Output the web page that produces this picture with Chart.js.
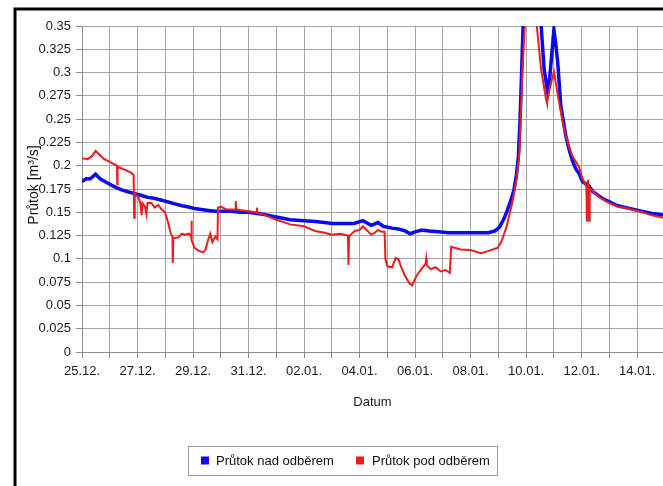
<!DOCTYPE html>
<html>
<head>
<meta charset="utf-8">
<title>Průtok</title>
<script src="https://cdn.jsdelivr.net/npm/chart.js@4.4.1/dist/chart.umd.min.js"></script>
<style>
  html, body { margin: 0; padding: 0; background: #ffffff; }
  canvas { display: block; }
</style>
</head>
<body>
<canvas id="c" width="663" height="486"></canvas>
<script>
// Time in days since 25.12. 00:00, flow in m³/s
const dayLabels = ['25.12.', '27.12.', '29.12.', '31.12.', '02.01.', '04.01.', '06.01.', '08.01.', '10.01.', '12.01.', '14.01.'];

const nadDays = [0.00, 0.15, 0.30, 0.49, 0.65, 0.95, 1.20, 1.43, 1.65, 1.90, 2.15, 2.37, 2.60, 2.87, 3.10, 3.35, 3.60, 3.80, 4.05, 4.30,
  4.55, 4.78, 5.00, 5.38, 5.70, 6.00, 6.50, 7.00, 7.50, 8.00, 8.40, 8.74, 9.00, 9.40, 9.80, 10.12, 10.30, 10.42, 10.66, 10.85,
  11.16, 11.40, 11.64, 11.82, 12.00, 12.24, 12.50, 12.84, 13.20, 13.44, 14.04, 14.40, 14.64, 14.88, 15.04, 15.20, 15.32, 15.45, 15.56, 15.65,
  15.72, 15.78, 15.84, 15.90, 16.20, 16.54, 16.65, 16.77, 16.85, 17.00, 17.07, 17.14, 17.25, 17.43, 17.55, 17.67, 17.80, 17.90, 18.03, 18.27,
  18.39, 18.70, 18.87, 19.30, 19.60, 20.19, 20.50, 20.93];
const nadFlow = [0.183, 0.186, 0.186, 0.191, 0.186, 0.181, 0.177, 0.174, 0.172, 0.170, 0.168, 0.166, 0.165, 0.163, 0.161, 0.159, 0.157, 0.156, 0.154, 0.153,
  0.152, 0.151, 0.151, 0.151, 0.150, 0.150, 0.148, 0.145, 0.142, 0.141, 0.140, 0.139, 0.138, 0.138, 0.138, 0.141, 0.138, 0.136, 0.139, 0.135,
  0.133, 0.132, 0.130, 0.127, 0.129, 0.131, 0.130, 0.129, 0.128, 0.128, 0.128, 0.128, 0.128, 0.130, 0.134, 0.143, 0.152, 0.163, 0.174, 0.190,
  0.210, 0.249, 0.303, 0.360, 0.420, 0.350, 0.303, 0.280, 0.295, 0.346, 0.330, 0.310, 0.264, 0.232, 0.217, 0.205, 0.196, 0.192, 0.183, 0.178,
  0.1725, 0.166, 0.163, 0.157, 0.155, 0.151, 0.149, 0.147];

const podDays = [0.00, 0.20, 0.35, 0.49, 0.62, 0.80, 0.95, 1.20, 1.26, 1.27, 1.28, 1.43, 1.60, 1.79, 1.86, 1.88, 1.90, 2.03, 2.10, 2.15,
  2.18, 2.27, 2.32, 2.36, 2.50, 2.62, 2.75, 2.87, 2.99, 3.10, 3.20, 3.26, 3.27, 3.29, 3.47, 3.60, 3.70, 3.85, 3.93, 3.94,
  3.96, 4.05, 4.18, 4.36, 4.45, 4.54, 4.62, 4.70, 4.80, 4.88, 4.90, 5.00, 5.20, 5.52, 5.54, 5.56, 5.80, 6.00, 6.28, 6.30,
  6.32, 6.50, 7.00, 7.50, 8.00, 8.40, 8.74, 9.00, 9.30, 9.58, 9.60, 9.62, 9.82, 10.00, 10.12, 10.25, 10.42, 10.55, 10.66, 10.80,
  10.90, 10.93, 11.00, 11.17, 11.30, 11.40, 11.50, 11.63, 11.80, 11.89, 12.04, 12.20, 12.38, 12.40, 12.42, 12.56, 12.74, 12.92, 13.10, 13.25,
  13.30, 13.64, 14.00, 14.37, 14.60, 14.98, 15.10, 15.28, 15.52, 15.65, 15.76, 15.86, 15.97, 16.15, 16.35, 16.54, 16.72, 16.75, 16.85, 17.00,
  17.19, 17.37, 17.55, 17.67, 17.90, 18.03, 18.17, 18.19, 18.23, 18.27, 18.29, 18.39, 18.70, 18.99, 19.30, 19.60, 20.19, 20.50, 20.93];
const podFlow = [0.208, 0.207, 0.210, 0.216, 0.212, 0.207, 0.205, 0.201, 0.200, 0.180, 0.199, 0.197, 0.195, 0.192, 0.190, 0.144, 0.170, 0.166, 0.160, 0.147,
  0.160, 0.156, 0.148, 0.160, 0.160, 0.155, 0.158, 0.153, 0.150, 0.139, 0.127, 0.124, 0.0955, 0.122, 0.123, 0.127, 0.126, 0.127, 0.124, 0.141,
  0.120, 0.112, 0.109, 0.107, 0.110, 0.120, 0.127, 0.118, 0.124, 0.121, 0.155, 0.156, 0.153, 0.153, 0.162, 0.153, 0.152, 0.151, 0.150, 0.155,
  0.149, 0.148, 0.142, 0.137, 0.135, 0.130, 0.128, 0.126, 0.127, 0.125, 0.0934, 0.124, 0.130, 0.131, 0.135, 0.131, 0.126, 0.128, 0.131, 0.129,
  0.129, 0.100, 0.092, 0.091, 0.101, 0.0995, 0.091, 0.082, 0.0735, 0.0715, 0.081, 0.088, 0.095, 0.100, 0.093, 0.089, 0.091, 0.0865, 0.088, 0.085,
  0.113, 0.110, 0.1095, 0.106, 0.108, 0.112, 0.118, 0.133, 0.163, 0.185, 0.215, 0.300, 0.360, 0.400, 0.360, 0.303, 0.271, 0.2675, 0.283, 0.301,
  0.2675, 0.2388, 0.220, 0.210, 0.199, 0.186, 0.178, 0.140, 0.185, 0.141, 0.176, 0.173, 0.165, 0.160, 0.156, 0.1545, 0.150, 0.147, 0.144];

const seriesNames = ['Průtok nad odběrem', 'Průtok pod odběrem'];
const seriesColors = ['#0a0af0', '#ee1c1c'];

const toPoints = (xs, ys) => xs.map((x, i) => ({ x: x, y: ys[i] }));
const FONT = 'Arial, "Liberation Sans", sans-serif';

// Outer frame, rotated axis title and boxed legend
const decorations = {
  id: 'decorations',
  afterDraw(chart) {
    const ctx = chart.ctx;
    ctx.save();
    // frame
    ctx.strokeStyle = '#000000';
    ctx.lineWidth = 3;
    ctx.beginPath();
    ctx.moveTo(15, 486);
    ctx.lineTo(15, 9);
    ctx.lineTo(663, 9);
    ctx.stroke();

    // y axis title
    ctx.save();
    ctx.translate(34, 185);
    ctx.rotate(-Math.PI / 2);
    ctx.fillStyle = '#111111';
    ctx.font = '14px ' + FONT;
    ctx.textAlign = 'center';
    ctx.textBaseline = 'middle';
    ctx.fillText('Průtok [m³/s]', 0, 0);
    ctx.restore();

    // legend box
    const bx = 188, by = 446, bw = 309, bh = 29;
    ctx.fillStyle = '#ffffff';
    ctx.fillRect(bx, by, bw, bh);
    ctx.strokeStyle = '#9a9a9a';
    ctx.lineWidth = 1;
    ctx.strokeRect(bx + 0.5, by + 0.5, bw, bh);
    ctx.font = '13px ' + FONT;
    ctx.textBaseline = 'middle';
    ctx.textAlign = 'left';
    const items = [{ sx: 201, tx: 216 }, { sx: 356, tx: 372 }];
    items.forEach((it, i) => {
      ctx.fillStyle = seriesColors[i];
      ctx.fillRect(it.sx, by + bh / 2 - 4, 8, 8);
      ctx.fillStyle = '#111111';
      ctx.fillText(seriesNames[i], it.tx, by + bh / 2 + 0.5);
    });
    ctx.restore();
  }
};

new Chart(document.getElementById('c'), {
  type: 'line',
  data: {
    datasets: [
      {
        label: seriesNames[0],
        data: toPoints(nadDays, nadFlow),
        borderColor: seriesColors[0],
        backgroundColor: seriesColors[0],
        borderWidth: 3.5,
        pointRadius: 0,
        tension: 0,
        clip: 0,
        order: 1
      },
      {
        label: seriesNames[1],
        data: toPoints(podDays, podFlow),
        borderColor: seriesColors[1],
        backgroundColor: seriesColors[1],
        borderWidth: 2,
        pointRadius: 0,
        tension: 0,
        clip: 0,
        order: 0
      }
    ]
  },
  options: {
    responsive: false,
    animation: false,
    devicePixelRatio: 1,
    layout: { padding: { top: 26, right: 0, bottom: 76, left: 0 } },
    plugins: {
      legend: { display: false },
      tooltip: { enabled: false },
      title: { display: false }
    },
    scales: {
      x: {
        type: 'linear',
        min: 0,
        max: 20.93,
        afterBuildTicks(scale) {
          // one grid line per day
          scale.ticks = dayLabels.flatMap((_, i) => [{ value: 2 * i }, { value: 2 * i + 1 }])
            .filter(t => t.value <= 20);
        },
        afterFit(scale) { scale.height = 58; },
        ticks: {
          autoSkip: false,
          maxRotation: 0,
          padding: 6,
          color: '#1a1a1a',
          font: { family: FONT, size: 13 },
          callback: (v) => (v % 2 === 0 ? dayLabels[v / 2] : '')
        },
        grid: { color: '#a4a4a4', lineWidth: 1, tickLength: 6, tickColor: '#8a8a8a' },
        border: { display: true, color: '#8a8a8a' },
        title: {
          display: true,
          text: 'Datum',
          color: '#1a1a1a',
          font: { family: FONT, size: 13 },
          padding: { top: 0, bottom: 0 }
        }
      },
      y: {
        min: 0,
        max: 0.35,
        afterFit(scale) { scale.width = 82; },
        ticks: {
          stepSize: 0.025,
          padding: 5,
          color: '#1a1a1a',
          font: { family: FONT, size: 13 },
          callback: (v) => String(Number(v.toFixed(3)))
        },
        grid: { color: '#a4a4a4', lineWidth: 1, tickLength: 6, tickColor: '#8a8a8a' },
        border: { display: true, color: '#8a8a8a' }
      }
    }
  },
  plugins: [decorations]
});
</script>
</body>
</html>
